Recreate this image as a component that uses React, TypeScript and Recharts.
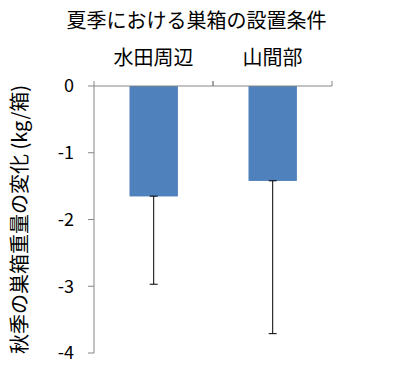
import { Bar, BarChart, ErrorBar, Label, XAxis, YAxis } from "recharts";

const categories = ["水田周辺", "山間部"];
const changes = [-1.65, -1.42];
const errorsDown = [1.32, 2.29];
const yTicks = [0, -1, -2, -3, -4];

const title = "夏季における巣箱の設置条件";
const yTitle = "秋季の巣箱重量の変化 (kg/箱)";

const data = categories.map((name, i) => ({
  name,
  value: changes[i],
  err: [errorsDown[i], 0],
}));

const AXIS = "#868686";
const FONT = "'Noto Sans CJK JP', 'Noto Sans', sans-serif";

// category name, plus the small tick marks on the band edges (Excel style)
function CatTick(props: any) {
  const { x, y, payload, width, visibleTicksCount } = props;
  const half = width / visibleTicksCount / 2;
  return (
    <g>
      <line x1={x - half} x2={x - half} y1={y} y2={y - 5} stroke={AXIS} />
      <line x1={x + half} x2={x + half} y1={y} y2={y - 5} stroke={AXIS} />
      <text x={x} y={y - 21} textAnchor="middle" fontSize={20} fill="#000">
        {payload.value}
      </text>
    </g>
  );
}

function YTitle(props: any) {
  const { viewBox } = props;
  const cx = viewBox.x + 18;
  const cy = viewBox.y + viewBox.height / 2;
  return (
    <text
      x={cx}
      y={cy}
      transform={`rotate(-90 ${cx} ${cy})`}
      textAnchor="middle"
      dominantBaseline="central"
      fontSize={20}
      fill="#000"
    >
      {yTitle}
    </text>
  );
}

export default function App() {
  return (
    <div style={{ position: "absolute", left: 0, top: 0, width: 400, height: 382, background: "#fff", fontFamily: FONT }}>
      <div style={{ position: "absolute", left: 0, top: 6, width: 393, textAlign: "center", fontSize: 20, lineHeight: "28px" }}>
        {title}
      </div>
      <BarChart width={400} height={382} data={data} margin={{ top: 46, right: 68, bottom: 29, left: 0 }} barCategoryGap="30%">
        <XAxis
          xAxisId="cat"
          dataKey="name"
          orientation="top"
          height={40}
          stroke={AXIS}
          tickLine={false}
          tickSize={0}
          tickMargin={0}
          tick={<CatTick />}
          interval={0}
        />
        {/* second copy of the bars drawn over the error bars' upper caps */}
        <XAxis xAxisId="over" dataKey="name" hide />
        <YAxis
          domain={[-4, 0]}
          ticks={yTicks}
          width={94}
          stroke={AXIS}
          tickSize={6}
          tickMargin={14}
          tick={{ fill: "#000", fontSize: 18 }}
          interval={0}
        >
          <Label content={<YTitle />} />
        </YAxis>
        <Bar xAxisId="cat" dataKey="value" fill="#4F81BD" isAnimationActive={false}>
          <ErrorBar dataKey="err" direction="y" width={4} stroke="#000" strokeWidth={1} isAnimationActive={false} />
        </Bar>
        <Bar xAxisId="over" dataKey="value" fill="#4F81BD" isAnimationActive={false} />
      </BarChart>
    </div>
  );
}
